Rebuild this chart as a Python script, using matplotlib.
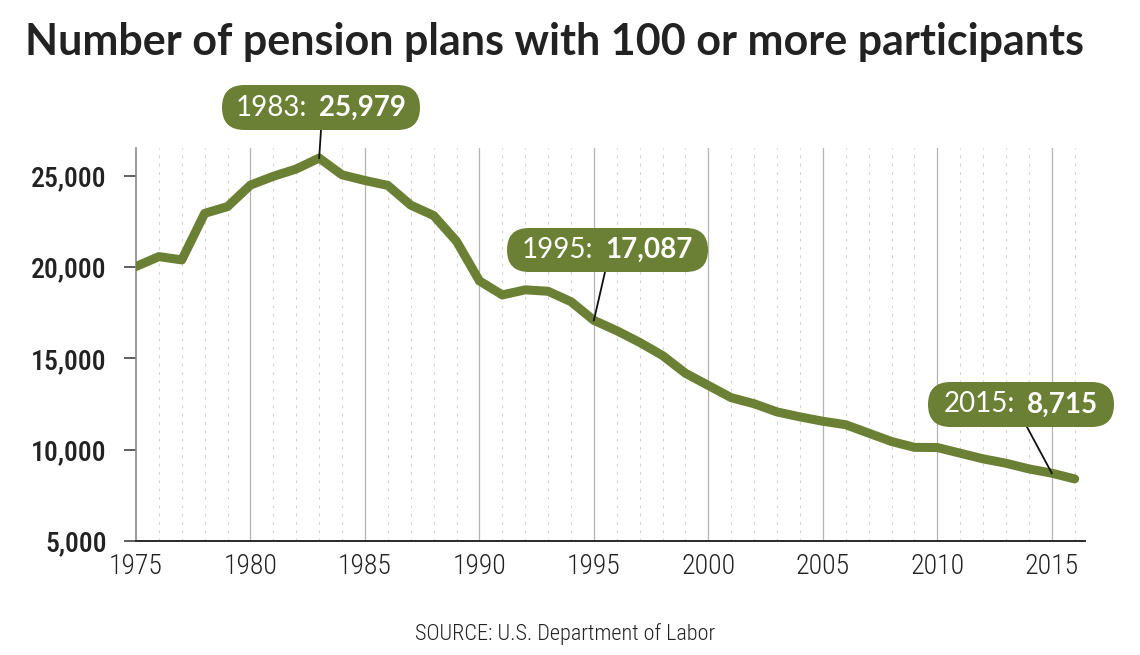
import matplotlib
matplotlib.use("Agg")
import matplotlib.pyplot as plt
from matplotlib.patches import FancyBboxPatch
from matplotlib.ticker import FuncFormatter
import matplotlib.font_manager as fm

# ---------------- data ----------------
years = list(range(1975, 2017))
plans = [20040, 20580, 20400, 22950, 23320, 24500, 24980, 25380, 25979, 25060,
         24750, 24480, 23400, 22830, 21420, 19250, 18480, 18760, 18680, 18110,
         17087, 16520, 15880, 15160, 14190, 13520, 12850, 12520, 12070, 11800,
         11560, 11370, 10910, 10450, 10130, 10120, 9810, 9500, 9260, 8950,
         8715, 8400]
y_ticks = [5000, 10000, 15000, 20000, 25000]
x_ticks = [1975, 1980, 1985, 1990, 1995, 2000, 2005, 2010, 2015]
callout_years = [1983, 1995, 2015]
callout_values = [25979, 17087, 8715]
callout_labels = ["25,979", "17,087", "8,715"]
title = "Number of pension plans with 100 or more participants"
source = "SOURCE: U.S. Department of Labor"

GREEN = "#6b8034"
avail = sorted({f.name for f in fm.fontManager.ttflist})


def pick(cands):
    for c in cands:
        if c in avail:
            return c
    return "DejaVu Sans"


NARROW = pick(["Roboto Condensed", "Open Sans Condensed", "Liberation Sans Narrow",
               "Lato"])
LATO = pick(["Lato"])

W, H = 1140, 655
fig = plt.figure(figsize=(W / 100, H / 100), dpi=100)
ax = fig.add_axes([136 / W, 1 - 541 / H, (1085 - 136) / W, (541 - 148) / H])

ax.set_xlim(1975, 2016.45)
ax.set_ylim(5000, 26530)

# grid lines
for yr in range(1976, 2017):
    if yr % 5 == 0:
        ax.axvline(yr, color="#b3b3b3", lw=0.9, zorder=1)
    else:
        ax.axvline(yr, color="#d2d2d2", lw=0.8, ls=(0, (2.5, 5)), zorder=1)

ax.plot(years, plans, color=GREEN, lw=6.5, solid_capstyle="round",
        solid_joinstyle="round", zorder=4)

for s in ["top", "right"]:
    ax.spines[s].set_visible(False)
ax.spines["left"].set_color("#8a8a8a")
ax.spines["left"].set_linewidth(1.2)
ax.spines["bottom"].set_color("#2a2a2a")
ax.spines["bottom"].set_linewidth(1.4)

ax.set_yticks(y_ticks)
ax.yaxis.set_major_formatter(FuncFormatter(lambda v, p: f"{int(v):,}"))
ax.set_xticks(x_ticks)
ax.tick_params(axis="y", length=9, width=1.1, color="#333333", pad=12,
               labelsize=20, labelcolor="#222222")
ax.tick_params(axis="x", length=0, pad=9, labelsize=20, labelcolor="#222222")
for lab in ax.get_yticklabels():
    lab.set_fontfamily(NARROW)
    lab.set_fontweight("medium")
for lab in ax.get_xticklabels():
    lab.set_fontfamily(NARROW)
    lab.set_fontweight("light")

fig.text(25 / W, 1 - 55 / H, title, fontsize=31, fontweight="bold",
         family=LATO, color="#222222", va="baseline", ha="left")
fig.text(565 / W, 1 - 640 / H, source, fontsize=16, family=NARROW,
         fontweight="light", color="#222222", ha="center", va="baseline")

# callouts (box positions in pixels)
boxes = [(222, 420, 85, 130), (507, 708, 228, 272), (928, 1114, 382, 427)]
anchors = [(321, 130), (605, 272), (1027, 427)]

fig.canvas.draw()
renderer = fig.canvas.get_renderer()
for (x0, x1, yt, yb), (ax_, ay_), yr, val, lab in zip(boxes, anchors, callout_years,
                                                   callout_values, callout_labels):
    hgt = yb - yt
    patch = FancyBboxPatch((x0 + hgt / 2, H - yb + hgt / 2), (x1 - x0) - hgt, 0,
                           boxstyle=f"round,pad={hgt/2},rounding_size={hgt/2}",
                           transform=None, facecolor=GREEN, edgecolor="none",
                           zorder=6)
    fig.add_artist(patch)
    # leader line
    px, py = ax.transData.transform((yr, val))
    fig.add_artist(plt.Line2D([px, ax_], [py, H - ay_], transform=None,
                              color="#111111", lw=1.3, zorder=3))
    cy = H - (yt + yb) / 2
    t1 = fig.text(0, 0, f"{yr}:", fontsize=20, family=LATO, fontweight="normal",
                  color="white", va="center", ha="left", transform=None, zorder=7)
    t2 = fig.text(0, 0, lab, fontsize=20, family=LATO, fontweight="bold",
                  color="white", va="center", ha="left", transform=None, zorder=7)
    w1 = t1.get_window_extent(renderer).width
    w2 = t2.get_window_extent(renderer).width
    gap = 12
    start = (x0 + x1) / 2 - (w1 + gap + w2) / 2
    t1.set_position((start, cy))
    t2.set_position((start + w1 + gap, cy))

fig.savefig("out.png", dpi=100)
